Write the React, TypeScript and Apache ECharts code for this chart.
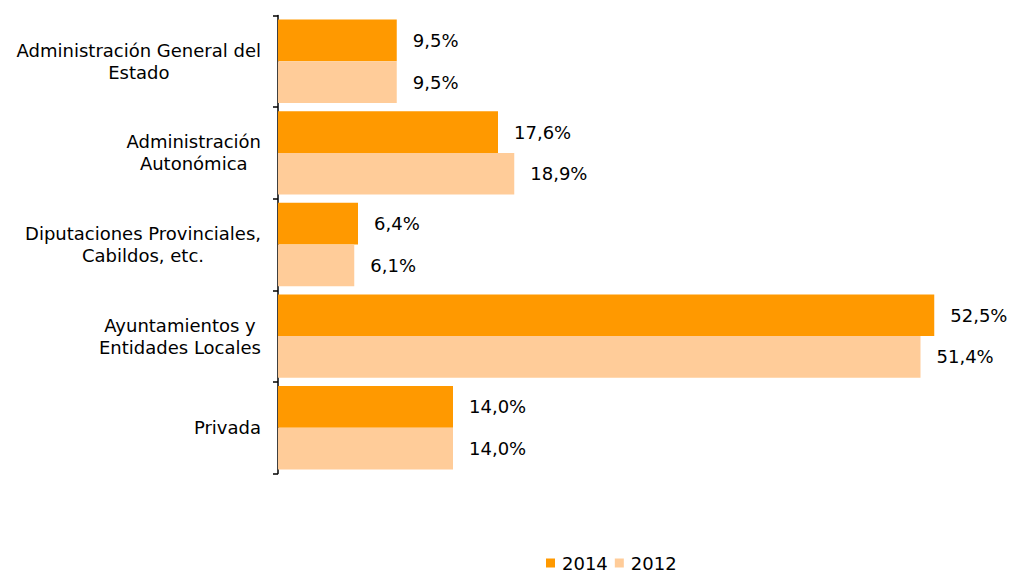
import React, { useEffect, useRef } from "react";
import * as echarts from "echarts";

const categories = [
  "Administración General del\nEstado",
  "Administración\nAutonómica",
  "Diputaciones Provinciales,\nCabildos, etc.",
  "Ayuntamientos y\nEntidades Locales",
  "Privada",
];
const seriesNames = ["2014", "2012"];
const values2014 = [9.5, 17.6, 6.4, 52.5, 14.0];
const values2012 = [9.5, 18.9, 6.1, 51.4, 14.0];
const colors = ["#FF9900", "#FFCC99"];

const FONT = "DejaVu Sans";

export default function App() {
  const ref = useRef<HTMLDivElement>(null);
  useEffect(() => {
    if (!ref.current) return;
    const chart = echarts.init(ref.current, null, { renderer: "svg" });
    const fmt = (p: any) => p.value.toFixed(1).replace(".", ",") + "%";
    const labelStyle = {
      show: true,
      position: "right",
      distance: 16,
      formatter: fmt,
      fontFamily: FONT,
      fontSize: 18,
      color: "#000",
    };
    chart.setOption({
      animation: false,
      backgroundColor: "#ffffff",
      textStyle: { fontFamily: FONT },
      grid: { left: 278, top: 15.5, width: 725, height: 458, containLabel: false },
      legend: {
        data: seriesNames,
        top: 554,
        left: 546,
        icon: "rect",
        itemWidth: 9,
        itemHeight: 9,
        itemGap: 7,
        padding: 0,
        textStyle: { fontFamily: FONT, fontSize: 18, color: "#000", padding: [0, 0, 0, 2] },
      },
      xAxis: {
        type: "value",
        min: 0,
        max: 58,
        show: false,
        splitLine: { show: false },
      },
      yAxis: {
        type: "category",
        inverse: true,
        data: categories,
        axisLine: { show: true, lineStyle: { color: "#000", width: 1.5 } },
        axisTick: { show: true, length: 5, lineStyle: { color: "#000", width: 1.5 } },
        axisLabel: {
          margin: 17,
          align: "right",
          formatter: (v: string) =>
            v
              .split("\n")
              .map((l) => "{c|" + l + "}")
              .join("\n"),
          rich: {
            c: {
              align: "center",
              fontFamily: FONT,
              fontSize: 18,
              color: "#000",
              lineHeight: 22,
            },
          },
        },
      },
      series: [
        {
          name: seriesNames[0],
          type: "bar",
          data: values2014,
          barGap: "0%",
          barCategoryGap: "9%",
          itemStyle: { color: colors[0] },
          label: labelStyle,
        },
        {
          name: seriesNames[1],
          type: "bar",
          data: values2012,
          barGap: "0%",
          barCategoryGap: "9%",
          itemStyle: { color: colors[1] },
          label: labelStyle,
        },
      ],
    });
    return () => chart.dispose();
  }, []);
  return <div ref={ref} style={{ width: 1013, height: 572, position: "absolute", left: 0, top: 0 }} />;
}
